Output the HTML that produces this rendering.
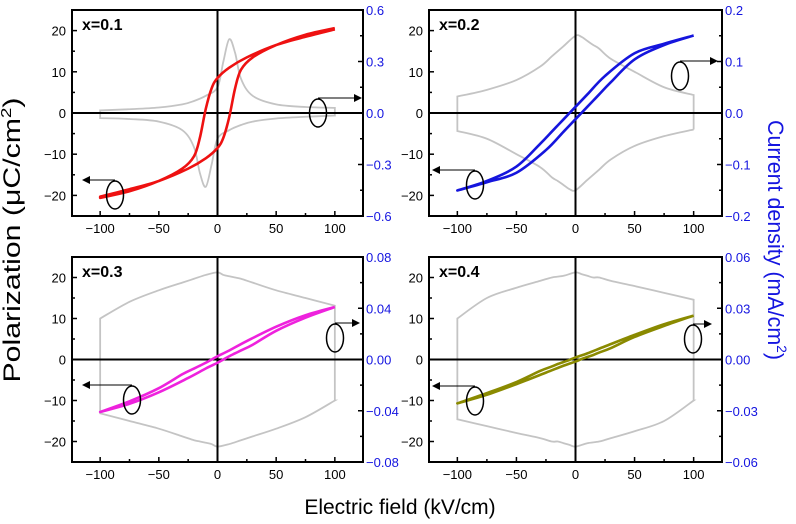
<!DOCTYPE html>
<html><head><meta charset="utf-8"><style>
body{margin:0;background:#fff;}
svg{display:block;font-family:"Liberation Sans",sans-serif;}
</style></head><body>
<svg id="chart" width="796" height="524" viewBox="0 0 796 524">
<text x="20" y="240" transform="rotate(-90 20 240)" text-anchor="middle" font-size="24" fill="#000" textLength="285" lengthAdjust="spacingAndGlyphs">Polarization (μC/cm<tspan dy="-9" font-size="15">2</tspan><tspan dy="9">)</tspan></text>
<text x="768" y="240" transform="rotate(90 768 240)" text-anchor="middle" font-size="22" fill="#1515e0" textLength="240" lengthAdjust="spacingAndGlyphs">Current density (mA/cm<tspan dy="-9" font-size="14">2</tspan><tspan dy="9">)</tspan></text>
<text x="400" y="514" text-anchor="middle" font-size="21" fill="#000">Electric field (kV/cm)</text>
</svg>
<script>
// Shared field grid (kV/cm), upper branch traversed from +100 to -100
const fieldP = [100, 75, 50, 25, 10, 0, -5, -10, -15, -20, -30, -50, -75, -100];
const polX1 = [20.3, 18.5, 16.5, 13.5, 11, 8.5, 6, 1, -6, -10.5, -13.5, -16.5, -19, -20.6];
const polX2 = [18.8, 16.8, 14.5, 9, 4.5, 1.5, 0, -1.5, -3, -4.5, -7.5, -13, -16.5, -18.8];
const polX3 = [12.8, 10.8, 8, 4.5, 2.2, 0.8, 0, -0.8, -1.5, -2.2, -3.6, -7, -10.2, -12.8];
const polX4 = [10.7, 8.6, 6, 3.2, 1.5, 0.5, -0.1, -0.6, -1.1, -1.7, -2.8, -5.5, -8.2, -10.7];
// current, increasing-field branch (positive)
const fieldJ = [-100, -75, -50, -30, -20, -10, 0, 5, 10, 15, 20, 30, 50, 75, 100];
const curX1 = [0.015, 0.022, 0.032, 0.05, 0.07, 0.1, 0.15, 0.3, 0.43, 0.35, 0.2, 0.1, 0.05, 0.035, 0.03];
const curX2 = [0.032, 0.045, 0.064, 0.09, 0.11, 0.13, 0.15, 0.148, 0.14, 0.132, 0.125, 0.105, 0.08, 0.05, 0.035];
const curX3 = [0.032, 0.045, 0.054, 0.06, 0.063, 0.066, 0.068, 0.066, 0.065, 0.064, 0.063, 0.06, 0.054, 0.048, 0.042];
const curX4 = [0.024, 0.036, 0.042, 0.046, 0.048, 0.049, 0.051, 0.05, 0.049, 0.048, 0.048, 0.046, 0.043, 0.039, 0.035];
const labels = ["x=0.1", "x=0.2", "x=0.3", "x=0.4"];
const rightMax = [0.6, 0.2, 0.08, 0.06];
const rightTicks = [["0.6","0.3","0.0","\u22120.3","\u22120.6"],["0.2","0.1","0.0","\u22120.1","\u22120.2"],["0.08","0.04","0.00","\u22120.04","\u22120.08"],["0.06","0.03","0.00","\u22120.03","\u22120.06"]];
const xTicks = [-100, -50, 0, 50, 100];
const yTicks = [-20, -10, 0, 10, 20];
const pols = [polX1, polX2, polX3, polX4];
const curs = [curX1, curX2, curX3, curX4];
const colors = ["#ee1111", "#1515dd", "#ee22dd", "#8a8a00"];
const frames = [[72,10,363,216],[429,10,722,216],[72,257,363,462],[429,257,722,462]];
const ells = [[[115,195],[318,113],82,362],[[475,185],[680,76],432,718],[[132,400],[335,338],82,360],[[475,401],[693,339],432,712]];
const NS="http://www.w3.org/2000/svg";
const svg=document.getElementById('chart');
function mk(t,a,p){const e=document.createElementNS(NS,t);for(const k in a)e.setAttribute(k,a[k]);(p||svg).appendChild(e);return e;}
function smooth(pts){
  let d='M'+pts[0][0].toFixed(2)+','+pts[0][1].toFixed(2);
  for(let i=0;i<pts.length-1;i++){
    const p0=pts[Math.max(i-1,0)],p1=pts[i],p2=pts[i+1],p3=pts[Math.min(i+2,pts.length-1)];
    const c1=[p1[0]+(p2[0]-p0[0])/6,p1[1]+(p2[1]-p0[1])/6];
    const c2=[p2[0]-(p3[0]-p1[0])/6,p2[1]-(p3[1]-p1[1])/6];
    d+='C'+c1.map(v=>v.toFixed(2)).join(',')+' '+c2.map(v=>v.toFixed(2)).join(',')+' '+p2.map(v=>v.toFixed(2)).join(',');
  }
  return d;
}
frames.forEach((f,i)=>{
  const [L,T,R,B]=f;
  const g=mk('g',{});
  
  
  const xs=v=>L+(v+124)/248*(R-L);
  const ys=v=>B-(v+25)/50*(B-T);
  const yr=v=>B-(v+rightMax[i])/(2*rightMax[i])*(B-T);
  // current loop (gray)
  const up=fieldJ.map((e,k)=>[xs(e),yr(curs[i][k])]);
  const dn=fieldJ.map((e,k)=>[xs(-e),yr(-curs[i][k])]);
  const d=smooth(up)+'L'+dn[0].join(',')+smooth(dn).replace(/^M/,'L')+'Z';
  const cp=mk('path',{d:d,fill:'none',stroke:'#c4c4c4','stroke-width':1.8},g);
  
  
  // zero lines
  mk('line',{x1:L,x2:R,y1:ys(0),y2:ys(0),stroke:'#000','stroke-width':2},g);
  mk('line',{x1:xs(0),x2:xs(0),y1:T,y2:B,stroke:'#000','stroke-width':2},g);
  // P loop
  const pu=fieldP.map((e,k)=>[xs(e),ys(pols[i][k])]);
  const pd=fieldP.map((e,k)=>[xs(-e),ys(-pols[i][k])]);
  const pdPath=smooth(pu)+smooth(pd).replace(/^M/,'L');
  const pp=mk('path',{d:pdPath,fill:'none',stroke:colors[i],'stroke-width':2.6,'stroke-linejoin':'round'},g);
  
  
  // frame
  mk('rect',{x:L,y:T,width:R-L,height:B-T,fill:'none',stroke:'#000','stroke-width':2},g);
  // ticks
  for(let v=-100;v<=100;v+=25){const m=v%50===0;mk('line',{x1:xs(v),x2:xs(v),y1:B,y2:B-(m?5:3),stroke:'#000','stroke-width':1.5},g);}
  for(let v=-20;v<=20;v+=5){const m=v%10===0;mk('line',{x1:L,x2:L+(m?5:3),y1:ys(v),y2:ys(v),stroke:'#000','stroke-width':1.5},g);}
  for(let k=0;k<=8;k++){const v=-rightMax[i]+k*rightMax[i]/4;mk('line',{x1:R,x2:R-(k%2?3:5),y1:yr(v),y2:yr(v),stroke:'#000','stroke-width':1.5},g);}
  xTicks.forEach(v=>{const t=mk('text',{x:xs(v),y:B+17,'text-anchor':'middle','font-size':13,fill:'#000'},g);t.textContent=(v<0?'\u2212':'')+Math.abs(v);
    });
  yTicks.forEach(v=>{const t=mk('text',{x:L-6,y:ys(v)+5,'text-anchor':'end','font-size':13,fill:'#000'},g);t.textContent=(v<0?'\u2212':'')+Math.abs(v);
    });
  rightTicks[i].forEach((s,k)=>{const v=rightMax[i]-k*rightMax[i]/2;const t=mk('text',{x:R+3,y:yr(v)+5,'font-size':13,fill:'#1515e0'},g);t.textContent=s;
    });
  const lb=mk('text',{x:L+10,y:T+20,'font-size':16,'font-weight':'bold',fill:'#000'},g);lb.textContent=labels[i];
  
  // ellipses + arrows
  const [e1,e2,ax1,ax2]=ells[i];
  mk('ellipse',{cx:e1[0],cy:e1[1],rx:8.5,ry:14,fill:'none',stroke:'#000','stroke-width':1.5},g);
  mk('line',{x1:e1[0],y1:e1[1]-15,x2:ax1+6,y2:e1[1]-15,stroke:'#000','stroke-width':1},g);
  mk('polygon',{points:`${ax1},${e1[1]-15} ${ax1+8},${e1[1]-19} ${ax1+8},${e1[1]-11}`,fill:'#000'},g);
  mk('ellipse',{cx:e2[0],cy:e2[1],rx:8.5,ry:14,fill:'none',stroke:'#000','stroke-width':1.5},g);
  mk('line',{x1:e2[0],y1:e2[1]-15,x2:ax2-6,y2:e2[1]-15,stroke:'#000','stroke-width':1},g);
  mk('polygon',{points:`${ax2},${e2[1]-15} ${ax2-8},${e2[1]-19} ${ax2-8},${e2[1]-11}`,fill:'#000'},g);
});
</script>
</body></html>
